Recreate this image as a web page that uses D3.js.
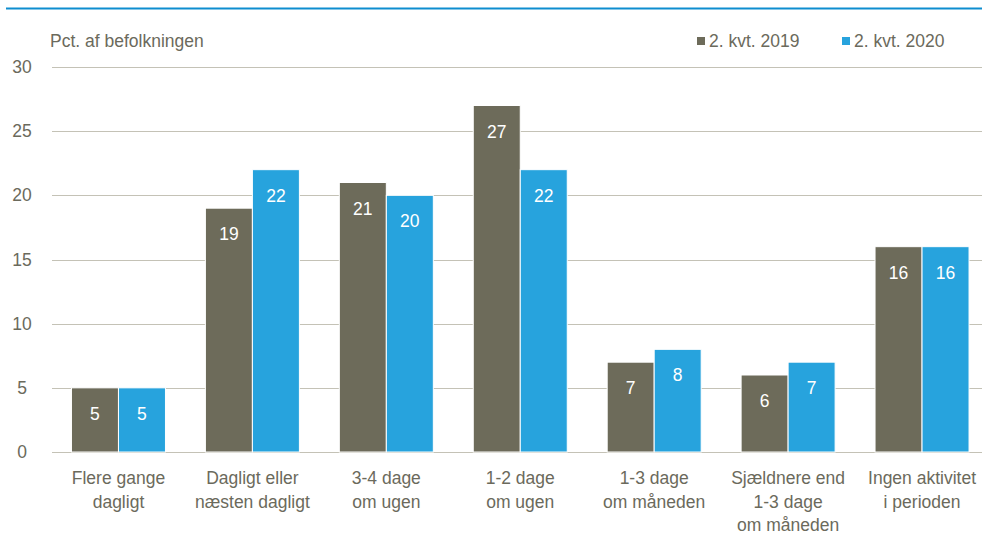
<!DOCTYPE html>
<html>
<head>
<meta charset="utf-8">
<script src="https://cdn.jsdelivr.net/npm/d3@7"></script>
<style>
  body { margin: 0; background: #fff; }
  svg text { font-family: "Liberation Sans", Arial, sans-serif; }
</style>
</head>
<body>
<div id="chart"></div>
<script>
var categories = [
  ['Flere gange', 'dagligt'],
  ['Dagligt eller', 'næsten dagligt'],
  ['3-4 dage', 'om ugen'],
  ['1-2 dage', 'om ugen'],
  ['1-3 dage', 'om måneden'],
  ['Sjældnere end', '1-3 dage', 'om måneden'],
  ['Ingen aktivitet', 'i perioden']
];
var series_names = ['2. kvt. 2019', '2. kvt. 2020'];
var values_2019 = [5, 19, 21, 27, 7, 6, 16];
var values_2020 = [5, 22, 20, 22, 8, 7, 16];
var y_ticks = [0, 5, 10, 15, 20, 25, 30];

var colors = ['#6d6b5a', '#27a3dd'];
var text_color = '#6b6a5c';

var W = 982, H = 535;
var m = { left: 52, right: 982, top: 67, bottom: 452 };

var svg = d3.select('#chart').append('svg')
  .attr('width', W)
  .attr('height', H);

// blue rule at top
svg.append('line')
  .attr('x1', 6).attr('x2', W)
  .attr('y1', 8.5).attr('y2', 8.5)
  .attr('stroke', '#0e8dcf')
  .attr('stroke-width', 2);

// plot area runs a little past the right edge of the picture
var x0 = d3.scaleBand()
  .domain(d3.range(categories.length))
  .range([51.5, 989]);

var y = d3.scaleLinear()
  .domain([0, 30])
  .range([m.bottom, m.top]);

var bar_w = 47;

// gridlines
svg.selectAll('line.grid')
  .data(y_ticks)
  .enter()
  .append('line')
  .attr('class', 'grid')
  .attr('x1', m.left).attr('x2', m.right)
  .attr('y1', (d) => Math.round(y(d)) + 0.5)
  .attr('y2', (d) => Math.round(y(d)) + 0.5)
  .attr('stroke', '#c4c2b6')
  .attr('stroke-width', 1);

svg.selectAll('text.ytick')
  .data(y_ticks)
  .enter()
  .append('text')
  .attr('class', 'ytick')
  .attr('x', 22)
  .attr('y', (d) => y(d) + 6)
  .attr('text-anchor', 'middle')
  .attr('font-size', 17.5)
  .attr('fill', text_color)
  .text((d) => d);

svg.append('text')
  .attr('x', 50)
  .attr('y', 47)
  .attr('font-size', 17.5)
  .attr('fill', text_color)
  .text('Pct. af befolkningen');

// bars
var sources = [values_2019, values_2020];

sources.forEach((vals, s) => {
  var bx = (i) => x0(i) + x0.bandwidth() / 2 + (s === 0 ? -bar_w : 0);

  svg.selectAll(`rect.bar-${s}`)
    .data(vals)
    .enter()
    .append('rect')
    .attr('class', `bar-${s}`)
    .attr('x', (d,i) => bx(i))
    .attr('y', (d) => y(d))
    .attr('width', bar_w)
    .attr('height', (d) => m.bottom - y(d))
    .attr('fill', colors[s])
    .attr('stroke', '#fff')
    .attr('stroke-width', 1);

  svg.selectAll(`text.val-${s}`)
    .data(vals)
    .enter()
    .append('text')
    .attr('class', `val-${s}`)
    .attr('x', (d,i) => bx(i) + bar_w / 2)
    .attr('y', (d) => y(d) + 32)
    .attr('text-anchor', 'middle')
    .attr('font-size', 17.5)
    .attr('fill', '#fff')
    .text((d) => d);
});

// category labels
var cat = svg.selectAll('text.cat')
  .data(categories)
  .enter()
  .append('text')
  .attr('class', 'cat')
  .attr('text-anchor', 'middle')
  .attr('font-size', 17.5)
  .attr('fill', text_color);

cat.selectAll('tspan')
  .data((d,i) => d.map((t) => ({ t: t, i: i })))
  .enter()
  .append('tspan')
  .attr('x', (d) => x0(d.i) + x0.bandwidth() / 2)
  .attr('y', (d,j) => 484 + j * 23.5)
  .text((d) => d.t);

// legend
var legend_x = [697, 842];
series_names.forEach((n, s) => {
  svg.append('rect')
    .attr('x', legend_x[s])
    .attr('y', 37)
    .attr('width', 8)
    .attr('height', 8)
    .attr('fill', colors[s]);
  svg.append('text')
    .attr('x', legend_x[s] + 12)
    .attr('y', 47)
    .attr('font-size', 17.5)
    .attr('fill', text_color)
    .text(n);
});
</script>
</body>
</html>
